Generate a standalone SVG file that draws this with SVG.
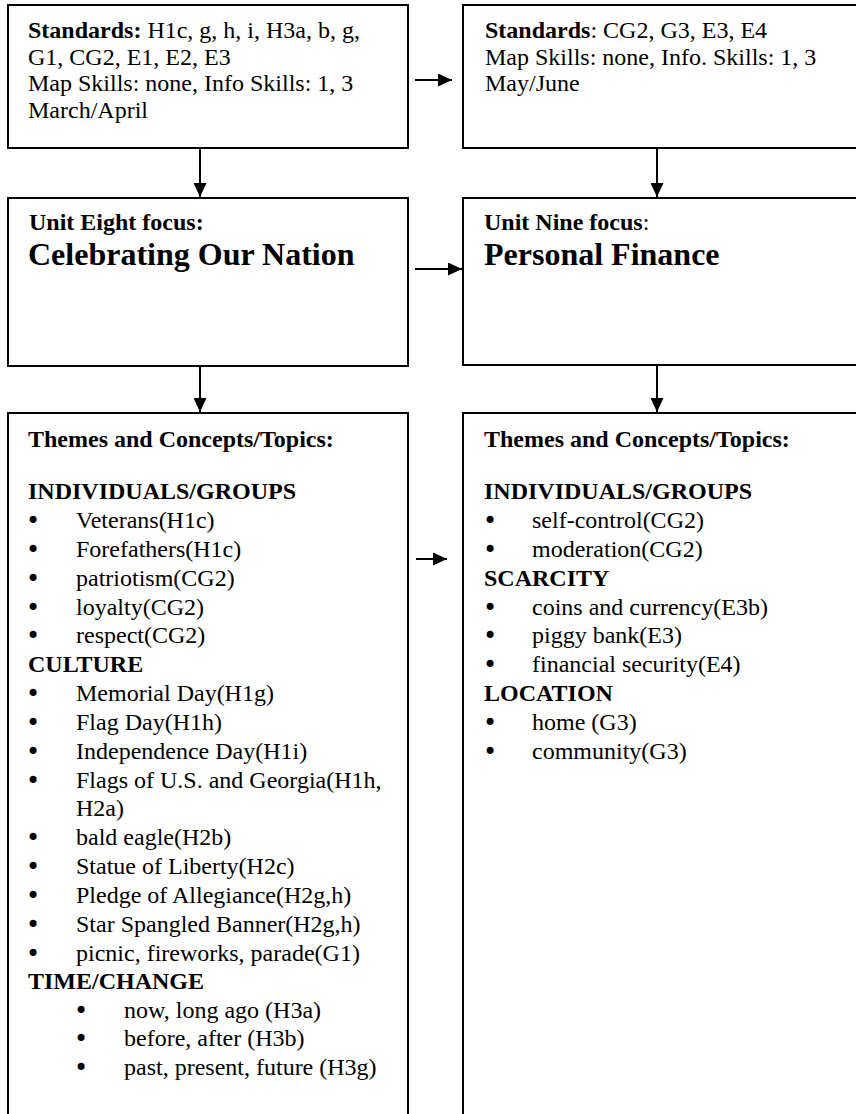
<svg xmlns="http://www.w3.org/2000/svg" width="856" height="1114" viewBox="0 0 856 1114">
<style>
  .box { fill: #ffffff; stroke: #000000; stroke-width: 2; }
  .t { font-family: "Liberation Serif", "Times New Roman", serif; font-size: 24px; fill: #000000; }
  .b { font-weight: bold; }
  .big { font-family: "Liberation Serif", "Times New Roman", serif; font-size: 32px; font-weight: bold; fill: #000000; }
  .bul { font-family: "DejaVu Sans", sans-serif; font-size: 24px; fill: #000000; }
  .conn { stroke: #000000; stroke-width: 2; fill: none; marker-end: url(#arrow); }
</style>
<defs>
  <marker id="arrow" markerUnits="userSpaceOnUse" markerWidth="14" markerHeight="13" refX="14" refY="6.5" orient="auto">
    <path d="M0,0 L14,6.5 L0,13 z" fill="#000000"/>
  </marker>
</defs>
<rect x="0" y="0" width="856" height="1114" fill="#ffffff"/>

<g id="standards-eight">
  <rect class="box" x="8" y="5" width="400" height="143"/>
  <text class="t" x="28" y="38"><tspan class="b">Standards:</tspan>  H1c, g, h, i, H3a, b, g,</text>
  <text class="t" x="28" y="64.5">G1, CG2, E1, E2, E3</text>
  <text class="t" x="28" y="91">Map Skills: none, Info Skills: 1, 3</text>
  <text class="t" x="28" y="117.5">March/April</text>
</g>

<g id="standards-nine">
  <rect class="box" x="463" y="5" width="400" height="143"/>
  <text class="t" x="485" y="38"><tspan class="b">Standards</tspan>:  CG2, G3, E3, E4</text>
  <text class="t" x="485" y="64.5">Map Skills: none, Info. Skills: 1, 3</text>
  <text class="t" x="485" y="91">May/June</text>
</g>

<g id="focus-eight">
  <rect class="box" x="8" y="198" width="400" height="168"/>
  <text class="t b" x="29" y="230">Unit Eight focus:</text>
  <text class="big" x="28" y="265">Celebrating Our Nation</text>
</g>

<g id="focus-nine">
  <rect class="box" x="463" y="198" width="400" height="167"/>
  <text class="t" x="484" y="230"><tspan class="b">Unit Nine focus</tspan>:</text>
  <text class="big" x="484" y="265">Personal Finance</text>
</g>

<g id="themes-eight">
  <rect class="box" x="8" y="413" width="400" height="720"/>
  <text class="t b" x="28" y="447">Themes and Concepts/Topics:</text>
  <text class="t b" x="28" y="499">INDIVIDUALS/GROUPS</text>
  <g class="bul">
    <text x="26" y="529">•</text>
    <text x="26" y="558">•</text>
    <text x="26" y="587">•</text>
    <text x="26" y="616">•</text>
    <text x="26" y="644">•</text>
    <text x="26" y="702">•</text>
    <text x="26" y="731">•</text>
    <text x="26" y="760">•</text>
    <text x="26" y="789">•</text>
    <text x="26" y="846">•</text>
    <text x="26" y="875">•</text>
    <text x="26" y="904">•</text>
    <text x="26" y="933">•</text>
    <text x="26" y="962">•</text>
    <text x="74" y="1019">•</text>
    <text x="74" y="1047">•</text>
    <text x="74" y="1076">•</text>
  </g>
  <g class="t">
    <text x="76" y="528">Veterans(H1c)</text>
    <text x="76" y="557">Forefathers(H1c)</text>
    <text x="76" y="586">patriotism(CG2)</text>
    <text x="76" y="615">loyalty(CG2)</text>
    <text x="76" y="643">respect(CG2)</text>
  </g>
  <text class="t b" x="28" y="672">CULTURE</text>
  <g class="t">
    <text x="76" y="701">Memorial Day(H1g)</text>
    <text x="76" y="730">Flag Day(H1h)</text>
    <text x="76" y="759">Independence Day(H1i)</text>
    <text x="76" y="788">Flags of U.S. and Georgia(H1h,</text>
    <text x="76" y="816">H2a)</text>
    <text x="76" y="845">bald eagle(H2b)</text>
    <text x="76" y="874">Statue of Liberty(H2c)</text>
    <text x="76" y="903">Pledge of Allegiance(H2g,h)</text>
    <text x="76" y="932">Star Spangled Banner(H2g,h)</text>
    <text x="76" y="961">picnic, fireworks, parade(G1)</text>
  </g>
  <text class="t b" x="28" y="989">TIME/CHANGE</text>
  <g class="t">
    <text x="124" y="1018">now, long ago (H3a)</text>
    <text x="124" y="1046">before, after (H3b)</text>
    <text x="124" y="1075">past, present, future (H3g)</text>
  </g>
</g>

<g id="themes-nine">
  <rect class="box" x="463" y="413" width="400" height="720"/>
  <text class="t b" x="484" y="447">Themes and Concepts/Topics:</text>
  <text class="t b" x="484" y="499">INDIVIDUALS/GROUPS</text>
  <g class="bul">
    <text x="483" y="529">•</text>
    <text x="483" y="558">•</text>
    <text x="483" y="616">•</text>
    <text x="483" y="644">•</text>
    <text x="483" y="673">•</text>
    <text x="483" y="731">•</text>
    <text x="483" y="760">•</text>
  </g>
  <g class="t">
    <text x="532" y="528">self-control(CG2)</text>
    <text x="532" y="557">moderation(CG2)</text>
  </g>
  <text class="t b" x="484" y="586">SCARCITY</text>
  <g class="t">
    <text x="532" y="615">coins and currency(E3b)</text>
    <text x="532" y="643">piggy bank(E3)</text>
    <text x="532" y="672">financial security(E4)</text>
  </g>
  <text class="t b" x="484" y="701">LOCATION</text>
  <g class="t">
    <text x="532" y="730">home (G3)</text>
    <text x="532" y="759">community(G3)</text>
  </g>
</g>

<g id="connectors">
  <line class="conn" x1="415" y1="80" x2="452" y2="80"/>
  <line class="conn" x1="200" y1="148" x2="200" y2="197"/>
  <line class="conn" x1="657" y1="148" x2="657" y2="197"/>
  <line class="conn" x1="415" y1="269" x2="462" y2="269"/>
  <line class="conn" x1="200" y1="366" x2="200" y2="412"/>
  <line class="conn" x1="657" y1="365" x2="657" y2="412"/>
  <line class="conn" x1="416" y1="559" x2="447" y2="559"/>
</g>
</svg>
